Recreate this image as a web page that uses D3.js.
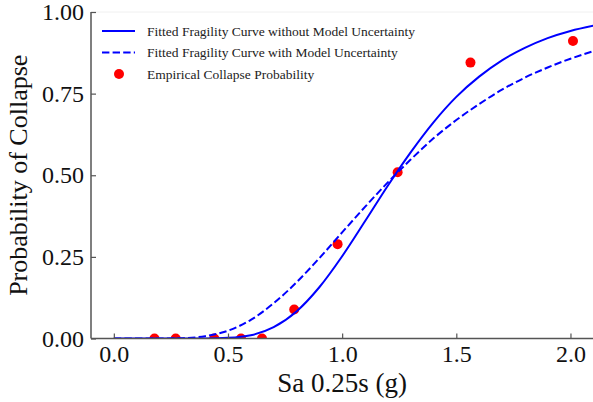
<!DOCTYPE html>
<html>
<head>
<meta charset="utf-8">
<script src="https://cdn.jsdelivr.net/npm/d3@7"></script>
<style>
  body { margin: 0; background: #fff; }
  svg { display: block; }
  text { font-family: "Liberation Serif", "Times New Roman", serif; }
</style>
</head>
<body>
<svg id="chart" width="593" height="402"></svg>
<script>
// empirical collapse points
var empX = [0.178, 0.271, 0.44, 0.557, 0.649, 0.79, 0.98, 1.243, 1.562, 2.011]
var empY = [0, 0, 0, 0, 0, 0.089, 0.289, 0.509, 0.845, 0.911]

// fitted curves at 0.1 steps
var curveX = [0.0, 0.1, 0.2, 0.3, 0.4, 0.5, 0.6, 0.7, 0.8, 0.9, 1.0,
    1.1, 1.2, 1.3, 1.4, 1.5, 1.6, 1.7, 1.8, 1.9, 2.0, 2.1]
var noUncert = [0, 0, 0, 0, 0.0002, 0.002, 0.010, 0.035, 0.083, 0.157, 0.252,
    0.359, 0.468, 0.570, 0.662, 0.740, 0.802, 0.852, 0.890, 0.920, 0.942, 0.958]
var withUncert = [0, 0, 0, 0.001, 0.007, 0.024, 0.057, 0.108, 0.172, 0.246, 0.325,
    0.403, 0.478, 0.548, 0.613, 0.669, 0.718, 0.762, 0.799, 0.830, 0.857, 0.880]

var xTicks = [0.0, 0.5, 1.0, 1.5, 2.0]
var yTicks = [0, 0.25, 0.5, 0.75, 1.0]

var legendLabels = ["Fitted Fragility Curve without Model Uncertainty",
    "Fitted Fragility Curve with Model Uncertainty",
    "Empirical Collapse Probability"]

var svg = d3.select("#chart")
var plotLeft = 91, plotRight = 593.3, plotTop = 12, plotBottom = 338.5

var x = d3.scaleLinear().domain([-0.1, 2.1]).range([plotLeft, plotRight])
var y = d3.scaleLinear().domain([0, 1]).range([plotBottom, plotTop])

svg.append("defs").append("clipPath").attr("id", "plotclip")
    .append("rect")
    .attr("x", plotLeft).attr("y", plotTop)
    .attr("width", plotRight - plotLeft).attr("height", plotBottom - plotTop)

var plot = svg.append("g").attr("clip-path", "url(#plotclip)")

// faint top border
svg.append("line")
    .attr("x1", plotLeft).attr("x2", plotRight).attr("y1", plotTop).attr("y2", plotTop)
    .style("stroke", "#f0f0f0").style("stroke-width", 1)

// scatter goes under the lines like matplotlib
plot.selectAll("circle.emp")
    .data(empX)
    .enter().append("circle")
    .attr("class", "emp")
    .attr("cx", function(d) { return x(d) })
    .attr("cy", function(d, i) { return y(empY[i]) })
    .attr("r", 5)
    .attr("fill", "#ff0000")

var line = d3.line()
    .x(function(d, i) { return x(curveX[i]) })
    .y(function(d) { return y(d) })
    .curve(d3.curveMonotoneX)

plot.append("path")
    .datum(noUncert)
    .attr("d", line)
    .attr("fill", "none")
    .attr("stroke", "#0000ff")
    .attr("stroke-width", 2)

plot.append("path")
    .datum(withUncert)
    .attr("d", line)
    .attr("fill", "none")
    .attr("stroke", "#0000ff")
    .attr("stroke-width", 2)
    .attr("stroke-dasharray", "7.4,3.2")

// axes, ticks point inward
var axisColor = "#555"

var xAxis = svg.append("g")
    .attr("transform", "translate(0," + plotBottom + ")")
    .call(d3.axisBottom(x).tickValues(xTicks).tickFormat(d3.format(".1f"))
        .tickSizeInner(-5).tickSizeOuter(0).tickPadding(6))
xAxis.select(".domain").remove()
xAxis.selectAll(".tick line").style("stroke", axisColor).style("stroke-width", 1.2)
xAxis.selectAll("text").style("font-size", "24px").style("fill", "#111")
    .style("font-family", "Liberation Serif")

var yAxis = svg.append("g")
    .attr("transform", "translate(" + plotLeft + ",0)")
    .call(d3.axisLeft(y).tickValues(yTicks).tickFormat(d3.format(".2f"))
        .tickSizeInner(-5).tickSizeOuter(0).tickPadding(7))
yAxis.select(".domain").remove()
yAxis.selectAll(".tick line").style("stroke", axisColor).style("stroke-width", 1.2)
yAxis.selectAll("text").style("font-size", "24px").style("fill", "#111")
    .style("font-family", "Liberation Serif")

svg.append("line")
    .attr("x1", plotLeft).attr("x2", plotLeft).attr("y1", plotTop).attr("y2", plotBottom)
    .style("stroke", axisColor).style("stroke-width", 1.5)
svg.append("line")
    .attr("x1", plotLeft).attr("x2", plotRight).attr("y1", plotBottom).attr("y2", plotBottom)
    .style("stroke", axisColor).style("stroke-width", 1.5)

// axis titles
svg.append("text")
    .attr("x", (x(0) + x(2)) / 2).attr("y", 392)
    .attr("text-anchor", "middle")
    .style("font-size", "27px").style("fill", "#111")
    .text("Sa 0.25s (g)")

svg.append("text")
    .attr("transform", "translate(26.5," + (plotTop + plotBottom) / 2 + ") rotate(-90)")
    .attr("text-anchor", "middle")
    .style("font-size", "26px").style("fill", "#111")
    .text("Probability of Collapse")

// legend
var leg = svg.append("g").attr("transform", "translate(102,31)")
var rowH = 21.5
legendLabels.forEach(function(label, i) {
    var g = leg.append("g").attr("transform", "translate(0," + i * rowH + ")")
    if (i < 2) {
        g.append("line")
            .attr("x1", 0).attr("x2", 33).attr("y1", 0).attr("y2", 0)
            .attr("stroke", "#0000ff").attr("stroke-width", 2)
            .attr("stroke-dasharray", i == 1 ? "7.4,3.2" : null)
    } else {
        g.append("circle").attr("cx", 17).attr("cy", 0).attr("r", 5).attr("fill", "#ff0000")
    }
    g.append("text")
        .attr("x", 45).attr("y", 0).attr("dy", "0.35em")
        .style("font-size", "13.5px").style("fill", "#222")
        .text(label)
})
</script>
</body>
</html>
